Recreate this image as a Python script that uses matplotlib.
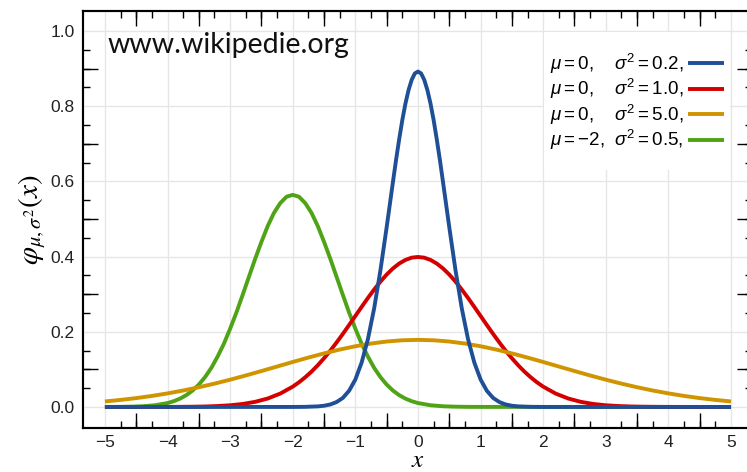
import matplotlib
matplotlib.use('Agg')
import matplotlib.pyplot as plt
from matplotlib.ticker import MultipleLocator, FixedLocator
from matplotlib.patches import Rectangle

plt.rcParams['font.family'] = 'Liberation Sans'
plt.rcParams['mathtext.fontset'] = 'custom'
plt.rcParams['mathtext.rm'] = 'Liberation Sans'
plt.rcParams['mathtext.it'] = 'Liberation Sans:italic'
plt.rcParams['axes.unicode_minus'] = True

# values
x_blue = [-5.0, -2.0, -1.8, -1.6, -1.5, -1.4, -1.3, -1.2, -1.1, -1.0, -0.9, -0.8, -0.7, -0.6,
          -0.5, -0.45, -0.4, -0.35, -0.3, -0.25, -0.2, -0.15, -0.1, -0.05, 0.0,
          0.05, 0.1, 0.15, 0.2, 0.25, 0.3, 0.35, 0.4, 0.45, 0.5,
          0.6, 0.7, 0.8, 0.9, 1.0, 1.1, 1.2, 1.3, 1.4, 1.5, 1.6, 1.8, 2.0, 5.0]
y_blue = [0.0, 0.0, 0.0003, 0.0015, 0.0032, 0.0066, 0.013, 0.024, 0.043, 0.073, 0.118, 0.180, 0.262, 0.363,
          0.478, 0.538, 0.598, 0.657, 0.712, 0.763, 0.807, 0.843, 0.870, 0.887, 0.892,
          0.887, 0.870, 0.843, 0.807, 0.763, 0.712, 0.657, 0.598, 0.538, 0.478,
          0.363, 0.262, 0.180, 0.118, 0.073, 0.043, 0.024, 0.013, 0.0066, 0.0032, 0.0015, 0.0003, 0.0, 0.0]

x_red = [-5.0, -4.4, -4.0, -3.8, -3.6, -3.4, -3.2, -3.0, -2.8, -2.6, -2.4, -2.2,
         -2.0, -1.9, -1.8, -1.7, -1.6, -1.5, -1.4, -1.3, -1.2, -1.1, -1.0, -0.9, -0.8, -0.7,
         -0.6, -0.5, -0.4, -0.3, -0.2, -0.1, 0.0, 0.1, 0.2, 0.3, 0.4, 0.5, 0.6, 0.7, 0.8, 0.9,
         1.0, 1.1, 1.2, 1.3, 1.4, 1.5, 1.6, 1.7, 1.8, 1.9, 2.0,
         2.2, 2.4, 2.6, 2.8, 3.0, 3.2, 3.4, 3.6, 3.8, 4.0, 4.4, 5.0]
y_red = [0.0, 0.0, 0.0001, 0.0003, 0.0006, 0.0012, 0.0024, 0.0044, 0.0079, 0.0136, 0.0224, 0.0355,
         0.0540, 0.0656, 0.0790, 0.0940, 0.1109, 0.1295, 0.1497, 0.1714, 0.1942, 0.2179, 0.2420, 0.2661, 0.2897, 0.3123,
         0.3332, 0.3521, 0.3683, 0.3814, 0.3910, 0.3970, 0.3989, 0.3970, 0.3910, 0.3814, 0.3683, 0.3521, 0.3332, 0.3123, 0.2897, 0.2661,
         0.2420, 0.2179, 0.1942, 0.1714, 0.1497, 0.1295, 0.1109, 0.0940, 0.0790, 0.0656, 0.0540,
         0.0355, 0.0224, 0.0136, 0.0079, 0.0044, 0.0024, 0.0012, 0.0006, 0.0003, 0.0001, 0.0, 0.0]

x_orange = [-5.0, -4.75, -4.5, -4.25, -4.0, -3.75, -3.5, -3.25, -3.0, -2.75, -2.5, -2.25, -2.0,
            -1.75, -1.5, -1.25, -1.0, -0.75, -0.5, -0.25, 0.0, 0.25, 0.5, 0.75, 1.0, 1.25, 1.5,
            1.75, 2.0, 2.25, 2.5, 2.75, 3.0, 3.25, 3.5, 3.75, 4.0, 4.25, 4.5, 4.75, 5.0]
y_orange = [0.0146, 0.0187, 0.0235, 0.0293, 0.0360, 0.0437, 0.0524, 0.0620, 0.0725, 0.0837, 0.0955, 0.1075, 0.1196,
            0.1313, 0.1424, 0.1526, 0.1614, 0.1686, 0.1740, 0.1773, 0.1784, 0.1773, 0.1740, 0.1686, 0.1614, 0.1526, 0.1424,
            0.1313, 0.1196, 0.1075, 0.0955, 0.0837, 0.0725, 0.0620, 0.0524, 0.0437, 0.0360, 0.0293, 0.0235, 0.0187, 0.0146]

x_green = [-5.0, -4.8, -4.6, -4.4, -4.2, -4.0, -3.9, -3.8, -3.7, -3.6, -3.5, -3.4, -3.3, -3.2, -3.1,
           -3.0, -2.9, -2.8, -2.7, -2.6, -2.5, -2.4, -2.3, -2.2, -2.1, -2.0, -1.9, -1.8, -1.7, -1.6,
           -1.5, -1.4, -1.3, -1.2, -1.1, -1.0, -0.9, -0.8, -0.7, -0.6, -0.5, -0.4, -0.3, -0.2, -0.1,
           0.0, 0.2, 0.4, 0.6, 0.8, 1.0, 5.0]
y_green = [0.0001, 0.0002, 0.0007, 0.0018, 0.0045, 0.0103, 0.0153, 0.0221, 0.0314, 0.0436, 0.0595, 0.0795, 0.104, 0.134, 0.168,
           0.208, 0.251, 0.298, 0.346, 0.394, 0.439, 0.481, 0.516, 0.542, 0.559, 0.564, 0.559, 0.542, 0.516, 0.481,
           0.439, 0.394, 0.346, 0.298, 0.251, 0.208, 0.168, 0.134, 0.104, 0.0795, 0.0595, 0.0436, 0.0314, 0.0221, 0.0153,
           0.0103, 0.0045, 0.0018, 0.0007, 0.0002, 0.0001, 0.0]

labels = [r'$\mu=0,\quad\,\sigma^2=0.2,$',
          r'$\mu=0,\quad\,\sigma^2=1.0,$',
          r'$\mu=0,\quad\,\sigma^2=5.0,$',
          r'$\mu=-2,\;\,\sigma^2=0.5,$']
colors = ['#1f4f96', '#d40000', '#cf9400', '#4fa316']

fig = plt.figure(figsize=(7.47, 4.72), dpi=100)
ax = fig.add_axes([83/747, 44/472, 669/747, 417/472])

lw = 2.8
l_green, = ax.plot(x_green, y_green, color=colors[3], lw=lw, solid_capstyle='butt', zorder=3)
l_red, = ax.plot(x_red, y_red, color=colors[1], lw=lw, solid_capstyle='butt', zorder=4)
l_orange, = ax.plot(x_orange, y_orange, color=colors[2], lw=lw, solid_capstyle='butt', zorder=5)
l_blue, = ax.plot(x_blue, y_blue, color=colors[0], lw=lw, solid_capstyle='butt', zorder=6)

ax.set_xlim(-5.35, 5.335)
ax.set_ylim(-0.056, 1.053)

ax.set_axisbelow(True)
ax.grid(True, which='major', color='#e6e6e6', lw=1.0)

for s in ax.spines.values():
    s.set_linewidth(1.5)

ax.xaxis.set_major_locator(MultipleLocator(1))
ax.yaxis.set_major_locator(MultipleLocator(0.2))
ax.xaxis.set_minor_locator(FixedLocator([i * 0.25 for i in range(-19, 20)]))
ax.yaxis.set_minor_locator(FixedLocator([i * 0.05 for i in range(1, 20)]))
ax.tick_params(which='major', length=0, labelsize=12.5, labelcolor='#222222', pad=6)
ax.tick_params(axis='x', which='major', pad=5)
ax.tick_params(which='minor', direction='in', length=5, width=1, top=True, right=True)

# longer ticks at half units
for loc in ['bottom', 'top']:
    sx = ax.secondary_xaxis(loc)
    sx.set_xticks([i + 0.5 for i in range(-5, 5)])
    sx.tick_params(direction='in', length=11, width=1, labelbottom=False, labeltop=False)
    for s in sx.spines.values():
        s.set_linewidth(1.5)
for loc in ['left', 'right']:
    sy = ax.secondary_yaxis(loc)
    sy.set_yticks([0.1, 0.3, 0.5, 0.7, 0.9])
    sy.tick_params(direction='in', length=11, width=1, labelleft=False, labelright=False)
    for s in sy.spines.values():
        s.set_linewidth(1.5)

ax.set_xlabel(r'$x$', fontsize=18, math_fontfamily='stix', va='bottom')
ax.xaxis.set_label_coords(0.5, -0.105)
ax.set_ylabel(r'$\varphi_{\mu,\sigma^2}(x)$', fontsize=21, math_fontfamily='stix', labelpad=2)

# white box behind legend
ax.add_patch(Rectangle((0.689, 0.619), 0.278, 0.331, transform=ax.transAxes,
                       facecolor='white', edgecolor='none', zorder=1))

ax.legend([l_blue, l_red, l_orange, l_green], labels, loc='upper left',
          bbox_to_anchor=(546/747, 1 - 48/472), bbox_transform=fig.transFigure,
          frameon=False, markerfirst=False, fontsize=13.5, handlelength=1.9,
          handletextpad=0.26, labelspacing=0.07, borderpad=0.2, borderaxespad=0)

fig.text(108/747, 1 - 53/472, 'www.wikipedie.org', fontfamily='Lato', fontsize=20.5,
         va='baseline', ha='left', color='#111111')

fig.savefig('out.png', dpi=100)
